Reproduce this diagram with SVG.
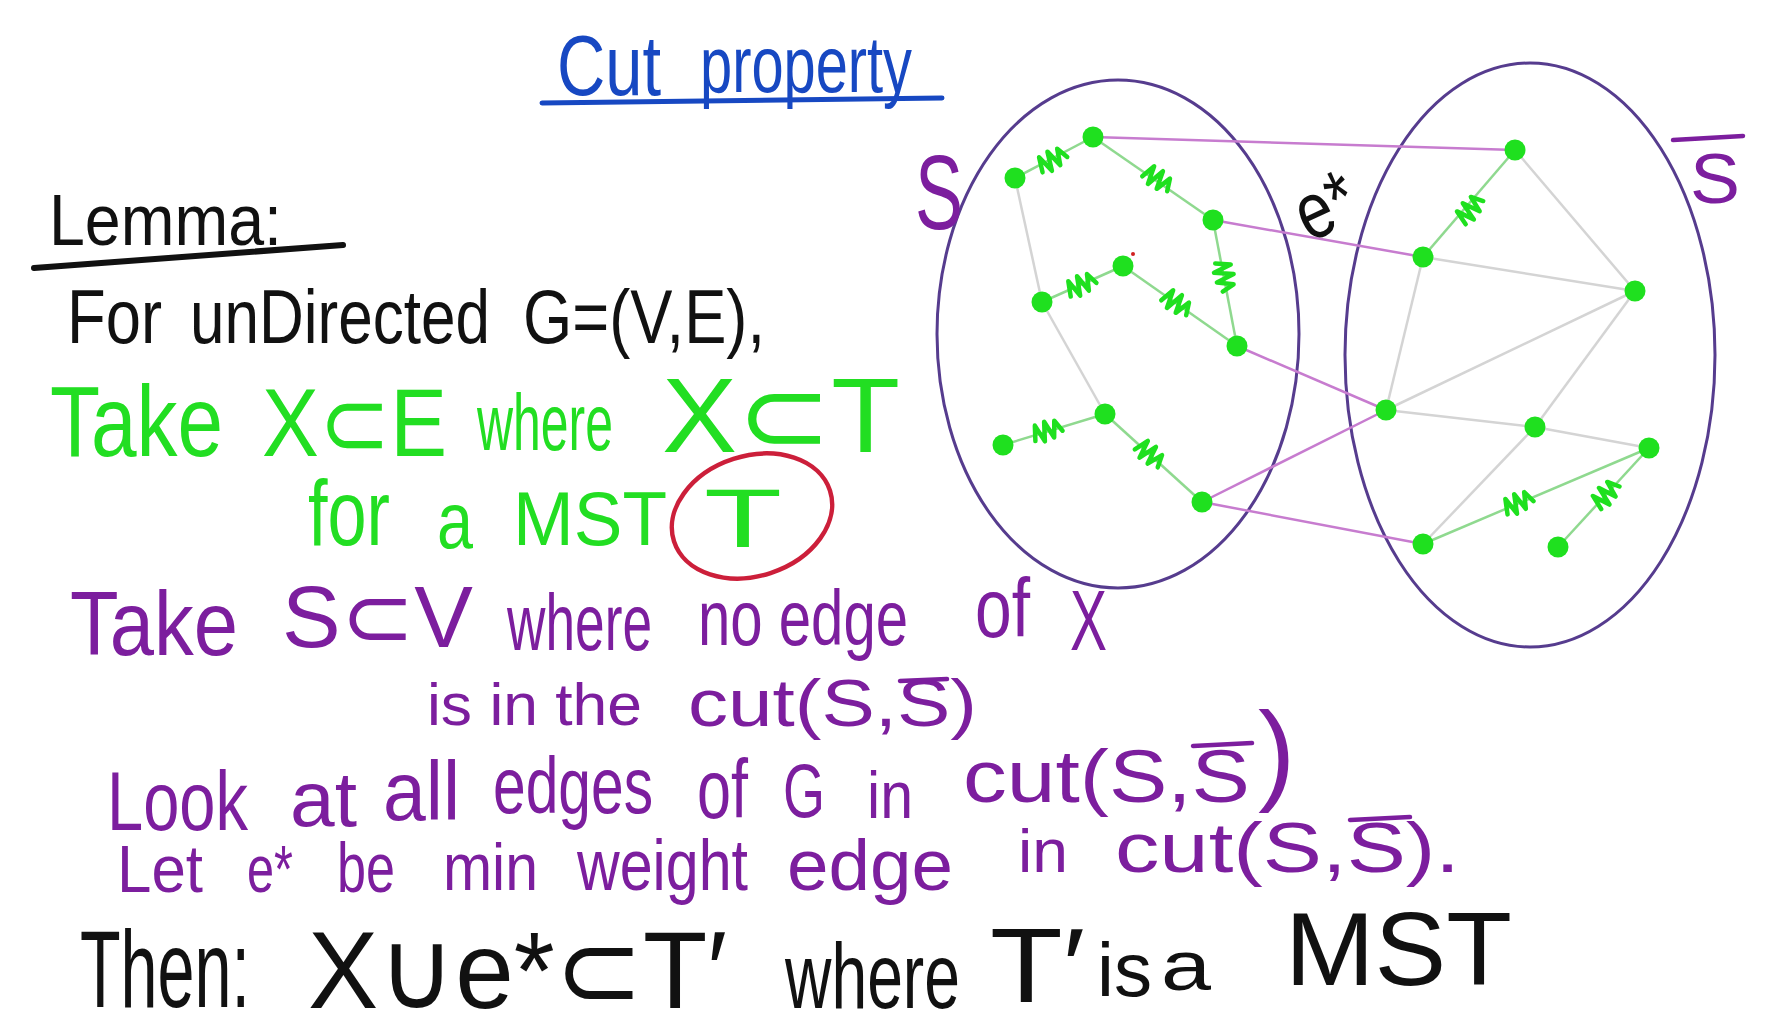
<svg xmlns="http://www.w3.org/2000/svg" width="1765" height="1024" viewBox="0 0 1765 1024">
  <defs>
    <style>
      .ell{fill:none;stroke:#563c8e;stroke-width:3}
      .cut{stroke:#c77ccf;stroke-width:2.5}
      .gray{stroke:#d4d4d4;stroke-width:2.5}
      .tree{stroke:#8fd98f;stroke-width:2.5}
      .node{fill:#1fe01f}
      .mark{fill:none;stroke:#1fe01f;stroke-width:4.5;stroke-linecap:round;stroke-linejoin:round}
      text{font-family:"Liberation Sans","DejaVu Sans",sans-serif}
      .blue{fill:#1748c2}
      .blk{fill:#111}
      .grn{fill:#22de22}
      .pur{fill:#7c1e9e}
      .bar{stroke:#7c1e9e;stroke-width:4.5;stroke-linecap:round}
    </style>
    <!-- scribbled weight mark drawn across a tree edge -->
    <path id="tick" class="mark" d="M-15,6 L-11,-9 L-6,9 L-1,-10 L4,8 L9,-8 L14,4"/>
  </defs>

  <rect width="1765" height="1024" fill="#ffffff"/>

  <!-- title -->
  <g id="title">
    <text class="blue" x="557" y="95" font-size="86" textLength="104" lengthAdjust="spacingAndGlyphs">Cut</text>
    <text class="blue" x="700" y="92" font-size="80" textLength="212" lengthAdjust="spacingAndGlyphs">property</text>
    <path d="M542,103 L942,98" stroke="#1748c2" stroke-width="5" stroke-linecap="round"/>
  </g>

  <!-- lemma statement -->
  <g id="lemma">
    <text class="blk" x="49" y="245" font-size="72" textLength="233" lengthAdjust="spacingAndGlyphs">Lemma:</text>
    <path d="M34,268 L343,245" stroke="#111" stroke-width="6" stroke-linecap="round"/>
    <text class="blk" x="67" y="343" font-size="76" textLength="95" lengthAdjust="spacingAndGlyphs">For</text>
    <text class="blk" x="190" y="343" font-size="76" textLength="300" lengthAdjust="spacingAndGlyphs">unDirected</text>
    <text class="blk" x="523" y="343" font-size="76" textLength="242" lengthAdjust="spacingAndGlyphs">G=(V,E),</text>
  </g>

  <g id="line-x">
    <text class="grn" x="50" y="456" font-size="100" textLength="173" lengthAdjust="spacingAndGlyphs">Take</text>
    <text class="grn" x="262" y="456" font-size="96" textLength="185" lengthAdjust="spacingAndGlyphs">X⊂E</text>
    <text class="grn" x="477" y="450" font-size="80" textLength="136" lengthAdjust="spacingAndGlyphs">where</text>
    <text class="grn" x="662" y="452" font-size="106" textLength="238" lengthAdjust="spacingAndGlyphs">X⊂T</text>
    <text class="grn" x="308" y="545" font-size="92" textLength="82" lengthAdjust="spacingAndGlyphs">for</text>
    <text class="grn" x="437" y="548" font-size="80" textLength="36" lengthAdjust="spacingAndGlyphs">a</text>
    <text class="grn" x="513" y="545" font-size="76" textLength="154" lengthAdjust="spacingAndGlyphs">MST</text>
    <text class="grn" x="704" y="547" font-size="84" textLength="78" lengthAdjust="spacingAndGlyphs">T</text>
    <ellipse cx="752" cy="516" rx="82" ry="60" transform="rotate(-18 752 516)" fill="none" stroke="#cc1f3a" stroke-width="4.5"/>
  </g>

  <g id="line-s">
    <text class="pur" x="70" y="655" font-size="90" textLength="168" lengthAdjust="spacingAndGlyphs">Take</text>
    <text class="pur" x="282" y="647" font-size="88" textLength="191" lengthAdjust="spacingAndGlyphs">S⊂V</text>
    <text class="pur" x="507" y="650" font-size="80" textLength="145" lengthAdjust="spacingAndGlyphs">where</text>
    <text class="pur" x="698" y="645" font-size="78" textLength="210" lengthAdjust="spacingAndGlyphs">no edge</text>
    <text class="pur" x="975" y="637" font-size="84" textLength="55" lengthAdjust="spacingAndGlyphs">of</text>
    <text class="pur" x="1070" y="650" font-size="86" textLength="37" lengthAdjust="spacingAndGlyphs">X</text>
    <text class="pur" x="427" y="725" font-size="60" textLength="215" lengthAdjust="spacingAndGlyphs">is in the</text>
    <text class="pur" x="688" y="726" font-size="66" textLength="289" lengthAdjust="spacingAndGlyphs">cut(S,S)</text>
    <line class="bar" x1="900" y1="681" x2="947" y2="679"/>
  </g>

  <g id="line-cut">
    <text class="pur" x="107" y="830" font-size="84" textLength="141" lengthAdjust="spacingAndGlyphs">Look</text>
    <text class="pur" x="290" y="826" font-size="78" textLength="67" lengthAdjust="spacingAndGlyphs">at</text>
    <text class="pur" x="383" y="820" font-size="84" textLength="77" lengthAdjust="spacingAndGlyphs">all</text>
    <text class="pur" x="493" y="813" font-size="80" textLength="160" lengthAdjust="spacingAndGlyphs">edges</text>
    <text class="pur" x="697" y="818" font-size="84" textLength="51" lengthAdjust="spacingAndGlyphs">of</text>
    <text class="pur" x="783" y="817" font-size="76" textLength="42" lengthAdjust="spacingAndGlyphs">G</text>
    <text class="pur" x="867" y="818" font-size="66" textLength="46" lengthAdjust="spacingAndGlyphs">in</text>
    <text class="pur" x="963" y="802" font-size="74" textLength="287" lengthAdjust="spacingAndGlyphs">cut(S,S</text>
    <line class="bar" x1="1193" y1="746" x2="1252" y2="743"/>
    <text class="pur" x="1258" y="790" font-size="112">)</text>
  </g>

  <g id="line-estar">
    <text class="pur" x="117" y="892" font-size="66" textLength="86" lengthAdjust="spacingAndGlyphs">Let</text>
    <text class="pur" x="247" y="892" font-size="66" textLength="46" lengthAdjust="spacingAndGlyphs">e*</text>
    <text class="pur" x="337" y="892" font-size="70" textLength="58" lengthAdjust="spacingAndGlyphs">be</text>
    <text class="pur" x="443" y="890" font-size="66" textLength="95" lengthAdjust="spacingAndGlyphs">min</text>
    <text class="pur" x="577" y="890" font-size="72" textLength="171" lengthAdjust="spacingAndGlyphs">weight</text>
    <text class="pur" x="787" y="890" font-size="72" textLength="166" lengthAdjust="spacingAndGlyphs">edge</text>
    <text class="pur" x="1018" y="872" font-size="62" textLength="50" lengthAdjust="spacingAndGlyphs">in</text>
    <text class="pur" x="1115" y="872" font-size="70" textLength="345" lengthAdjust="spacingAndGlyphs">cut(S,S).</text>
    <line class="bar" x1="1350" y1="820" x2="1410" y2="817"/>
  </g>

  <g id="conclusion">
    <text class="blk" x="80" y="1007" font-size="110" textLength="170" lengthAdjust="spacingAndGlyphs">Then:</text>
    <text class="blk" x="308" y="1008" font-size="110" textLength="419" lengthAdjust="spacingAndGlyphs">X∪e*⊂T′</text>
    <text class="blk" x="785" y="1008" font-size="92" textLength="175" lengthAdjust="spacingAndGlyphs">where</text>
    <text class="blk" x="990" y="1002" font-size="105" textLength="95" lengthAdjust="spacingAndGlyphs">T′</text>
    <text class="blk" x="1097" y="996" font-size="76" textLength="55" lengthAdjust="spacingAndGlyphs">is</text>
    <text class="blk" x="1161" y="990" font-size="70" textLength="50" lengthAdjust="spacingAndGlyphs">a</text>
    <text class="blk" x="1285" y="985" font-size="104" textLength="227" lengthAdjust="spacingAndGlyphs">MST</text>
  </g>

  <!-- the two sides of the cut -->
  <g id="set-S">
    <ellipse class="ell" cx="1118" cy="334" rx="181" ry="254"/>
    <text class="pur" x="915" y="229" font-size="106" textLength="48" lengthAdjust="spacingAndGlyphs">S</text>
  </g>
  <g id="set-Sbar">
    <ellipse class="ell" cx="1530" cy="355" rx="185" ry="292"/>
    <text class="pur" x="1690" y="203" font-size="70" textLength="50" lengthAdjust="spacingAndGlyphs">S</text>
    <line class="bar" x1="1673" y1="140" x2="1743" y2="136"/>
  </g>

  <!-- edges -->
  <g id="edges">
    <!-- non-tree edges -->
    <line class="gray" x1="1015" y1="178" x2="1042" y2="302"/>
    <line class="gray" x1="1042" y1="302" x2="1105" y2="414"/>
    <line class="gray" x1="1515" y1="150" x2="1635" y2="291"/>
    <line class="gray" x1="1423" y1="257" x2="1635" y2="291"/>
    <line class="gray" x1="1423" y1="257" x2="1386" y2="410"/>
    <line class="gray" x1="1386" y1="410" x2="1635" y2="291"/>
    <line class="gray" x1="1386" y1="410" x2="1535" y2="427"/>
    <line class="gray" x1="1535" y1="427" x2="1635" y2="291"/>
    <line class="gray" x1="1535" y1="427" x2="1649" y2="448"/>
    <line class="gray" x1="1535" y1="427" x2="1423" y2="544"/>
    <!-- edges crossing the cut -->
    <line class="cut" x1="1093" y1="137" x2="1515" y2="150"/>
    <line class="cut" x1="1213" y1="220" x2="1423" y2="257"/>
    <line class="cut" x1="1237" y1="346" x2="1386" y2="410"/>
    <line class="cut" x1="1202" y1="502" x2="1386" y2="410"/>
    <line class="cut" x1="1202" y1="502" x2="1423" y2="544"/>
    <!-- edges of X -->
    <line class="tree" x1="1015" y1="178" x2="1093" y2="137"/>
    <line class="tree" x1="1093" y1="137" x2="1213" y2="220"/>
    <line class="tree" x1="1213" y1="220" x2="1237" y2="346"/>
    <line class="tree" x1="1123" y1="266" x2="1237" y2="346"/>
    <line class="tree" x1="1042" y1="302" x2="1123" y2="266"/>
    <line class="tree" x1="1003" y1="445" x2="1105" y2="414"/>
    <line class="tree" x1="1105" y1="414" x2="1202" y2="502"/>
    <line class="tree" x1="1515" y1="150" x2="1423" y2="257"/>
    <line class="tree" x1="1423" y1="544" x2="1649" y2="448"/>
    <line class="tree" x1="1558" y1="547" x2="1649" y2="448"/>
    <!-- weight scribbles on the edges of X -->
    <use href="#tick" transform="translate(1053,160) rotate(-28)"/>
    <use href="#tick" transform="translate(1158,180) rotate(35)"/>
    <use href="#tick" transform="translate(1224,277) rotate(79)"/>
    <use href="#tick" transform="translate(1177,304) rotate(35)"/>
    <use href="#tick" transform="translate(1082,285) rotate(-24)"/>
    <use href="#tick" transform="translate(1048,431) rotate(-17)"/>
    <use href="#tick" transform="translate(1150,455) rotate(42)"/>
    <use href="#tick" transform="translate(1471,209) rotate(-49)"/>
    <use href="#tick" transform="translate(1519,503) rotate(-23)"/>
    <use href="#tick" transform="translate(1607,494) rotate(-47)"/>
    <!-- label of the lightest crossing edge -->
    <text class="blk" transform="translate(1328,212) rotate(-25)" x="0" y="20" font-size="80" text-anchor="middle" textLength="60" lengthAdjust="spacingAndGlyphs">e*</text>
  </g>

  <!-- vertices -->
  <g id="n-a"><circle class="node" cx="1093" cy="137" r="10.5"/></g>
  <g id="n-b"><circle class="node" cx="1015" cy="178" r="10.5"/></g>
  <g id="n-c"><circle class="node" cx="1213" cy="220" r="10.5"/></g>
  <g id="n-d"><circle class="node" cx="1123" cy="266" r="10.5"/></g>
  <g id="n-e"><circle class="node" cx="1042" cy="302" r="10.5"/></g>
  <g id="n-f"><circle class="node" cx="1237" cy="346" r="10.5"/></g>
  <g id="n-g"><circle class="node" cx="1105" cy="414" r="10.5"/></g>
  <g id="n-h"><circle class="node" cx="1003" cy="445" r="10.5"/></g>
  <g id="n-i"><circle class="node" cx="1202" cy="502" r="10.5"/></g>
  <g id="n-j"><circle class="node" cx="1515" cy="150" r="10.5"/></g>
  <g id="n-k"><circle class="node" cx="1423" cy="257" r="10.5"/></g>
  <g id="n-l"><circle class="node" cx="1635" cy="291" r="10.5"/></g>
  <g id="n-m"><circle class="node" cx="1386" cy="410" r="10.5"/></g>
  <g id="n-n"><circle class="node" cx="1535" cy="427" r="10.5"/></g>
  <g id="n-o"><circle class="node" cx="1649" cy="448" r="10.5"/></g>
  <g id="n-p"><circle class="node" cx="1423" cy="544" r="10.5"/></g>
  <g id="n-q"><circle class="node" cx="1558" cy="547" r="10.5"/></g>
  <circle cx="1133" cy="254" r="2" fill="#d02020"/>
</svg>
